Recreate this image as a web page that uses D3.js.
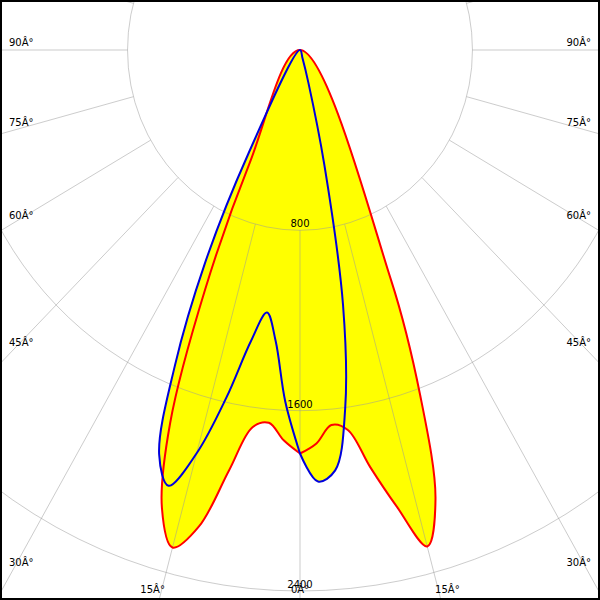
<!DOCTYPE html>
<html>
<head>
<meta charset="utf-8">
<script src="https://cdn.jsdelivr.net/npm/d3@7"></script>
<style>
html,body{margin:0;padding:0;background:#fff;}
svg{display:block;}
text{font-family:"DejaVu Sans",sans-serif;font-size:10px;fill:#000;}
</style>
</head>
<body>
<svg id="chart" width="600" height="600"></svg>
<script>
// gamma angles (degrees from nadir)
const gamma = [0, 2.5, 5, 7.5, 10, 12.5, 15, 17.5, 20, 22.5, 25, 27.5, 30];
// red plane (C0 right / C180 left), cd
const c0   = [1790, 1747, 1670, 1700, 1880, 2075, 2280, 2090, 1630, 1100, 0, 0, 0];
const c180 = [1790, 1733, 1660, 1688, 1893, 2165, 2285, 2130, 1761, 1150, 550, 0, 0];
// blue plane (C90 right / C270 left), cd
const c90  = [1790, 1916, 1872, 1605, 1150, 520, 150, 40, 0, 0, 0, 0, 0];
const c270 = [1790, 1562, 1296, 1175, 1312, 1581, 1852, 2027, 1910, 1518, 1043, 520, 0];
// grid
const ringValues = [800, 1600, 2400];
const spokeAngles = [0, 15, 30, 45, 60, 75, 90, 105, 120, 135, 150, 165, 180];
const labelAngles = [0, 15, 30, 45, 60, 75, 90];
const degSuffix = "Â°";

const W = 600, H = 600, cx = 300, cy = 50;
const svg = d3.select("#chart");
const rX = d3.scaleLinear().domain([0, 2400]).range([0, 517.4]);
const rY = d3.scaleLinear().domain([0, 2400]).range([0, 541]);
const rad = d => d * Math.PI / 180;
const pt = (a, v, side) => [cx + side * rX(v) * Math.sin(rad(a)), cy + rY(v) * Math.cos(rad(a))];

function planePoints(right, left) {
  const raw = [];
  gamma.forEach((g, i) => raw.push(pt(g, right[i], 1)));
  for (let i = gamma.length - 1; i >= 0; i--) raw.push(pt(gamma[i], left[i], -1));
  const pts = [];
  raw.forEach(p => {
    const q = pts[pts.length - 1];
    if (!q || Math.hypot(p[0] - q[0], p[1] - q[1]) > 0.01) pts.push(p);
  });
  return pts;
}
const line = d3.line().curve(d3.curveCatmullRomClosed.alpha(0.5));
const redPts = planePoints(c0, c180);
const bluePts = planePoints(c90, c270);

svg.append("rect").attr("width", W).attr("height", H).attr("fill", "#fff");

// fills
svg.append("path").attr("d", line(redPts)).attr("fill", "#ffff00");
svg.append("path").attr("d", line(bluePts)).attr("fill", "#ffff00");

// grid
const grid = svg.append("g").attr("fill", "none").attr("stroke", "#999").attr("stroke-opacity", 0.5).attr("stroke-width", 1);
ringValues.forEach(v => {
  grid.append("ellipse").attr("cx", cx).attr("cy", cy).attr("rx", rX(v)).attr("ry", rY(v));
});
spokeAngles.forEach(a => {
  [-1, 1].forEach(s => {
    if (a === 0 && s === -1) return;
    const p1 = pt(a, ringValues[0], s), p2 = pt(a, 6000, s);
    grid.append("line").attr("x1", p1[0]).attr("y1", p1[1]).attr("x2", p2[0]).attr("y2", p2[1]);
  });
});

// curves
svg.append("path").attr("d", line(redPts)).attr("fill", "none").attr("stroke", "#ff0000").attr("stroke-width", 2).attr("stroke-linejoin", "round");
svg.append("path").attr("d", line(bluePts)).attr("fill", "none").attr("stroke", "#0000dd").attr("stroke-width", 2).attr("stroke-linejoin", "round");

// ring labels
ringValues.forEach(v => {
  svg.append("text").attr("x", cx).attr("y", cy + rY(v) - 3).attr("text-anchor", "middle").text(v);
});

// angle labels
labelAngles.forEach(a => {
  [-1, 1].forEach(s => {
    if (a === 0 && s === -1) return;
    const sn = Math.sin(rad(a)), cs = Math.cos(rad(a));
    const tSide = sn > 1e-6 ? (W / 2) / sn : Infinity;
    const tBot = cs > 1e-6 ? (H - cy) / cs : Infinity;
    const t = Math.min(tSide, tBot);
    const hx = cx + s * sn * t, hy = cy + cs * t;
    const tx = svg.append("text").text(a + degSuffix);
    if (tSide < tBot) {
      tx.attr("x", s < 0 ? 9 : W - 9).attr("y", hy - 4).attr("text-anchor", s < 0 ? "start" : "end");
    } else {
      tx.attr("x", hx).attr("y", H - 7).attr("text-anchor", "middle");
    }
  });
});

// frame
svg.append("rect").attr("x", 1).attr("y", 1).attr("width", W - 2).attr("height", H - 2)
  .attr("fill", "none").attr("stroke", "#000").attr("stroke-width", 2);
</script>
</body>
</html>
